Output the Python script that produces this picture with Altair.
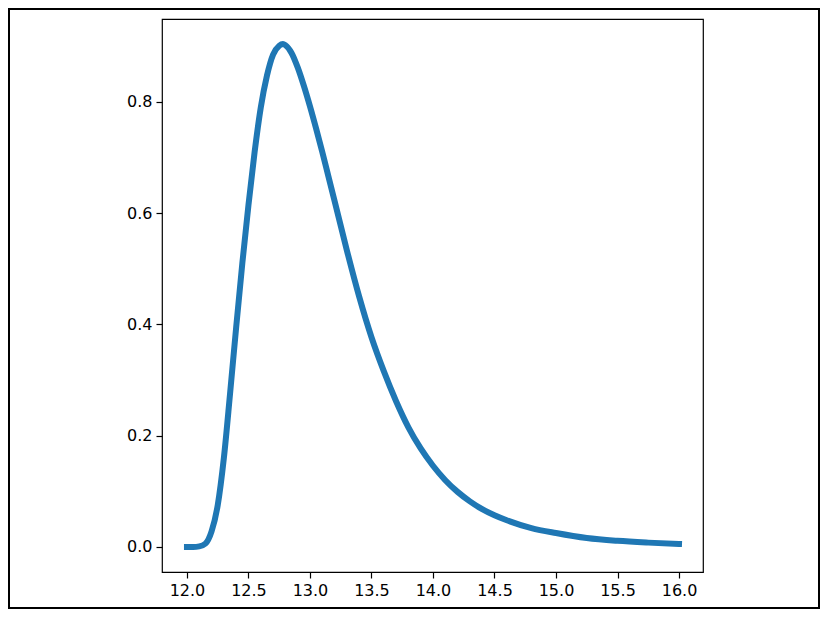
import altair as alt
import pandas as pd

# Values
x_vals = [12.0, 12.05, 12.1, 12.15, 12.2, 12.25, 12.3, 12.35, 12.4, 12.45,
          12.5, 12.55, 12.6, 12.65, 12.7, 12.75, 12.78, 12.8, 12.85, 12.9,
          12.95, 13.0, 13.05, 13.1, 13.15, 13.2, 13.3, 13.4, 13.5, 13.6,
          13.7, 13.8, 13.9, 14.0, 14.1, 14.2, 14.3, 14.4, 14.5, 14.6,
          14.8, 15.0, 15.25, 15.5, 15.75, 16.0]
y_vals = [0.000, 0.000, 0.001, 0.006, 0.028, 0.075, 0.160, 0.275, 0.395, 0.510,
          0.615, 0.710, 0.790, 0.847, 0.885, 0.901, 0.904, 0.902, 0.888, 0.862,
          0.829, 0.792, 0.752, 0.710, 0.666, 0.622, 0.533, 0.450, 0.377, 0.316,
          0.262, 0.215, 0.177, 0.146, 0.120, 0.099, 0.082, 0.068, 0.057, 0.048,
          0.034, 0.025, 0.016, 0.011, 0.0078, 0.0054]

x_ticks = [12.0, 12.5, 13.0, 13.5, 14.0, 14.5, 15.0, 15.5, 16.0]
y_ticks = [0.0, 0.2, 0.4, 0.6, 0.8]

df = pd.DataFrame({"x": x_vals, "y": y_vals})

W, H = 541, 553
PAD_L, PAD_T, PAD_R, PAD_B = 154, 11, 117, 37

line = alt.Chart(df).mark_line(
    color="#1f77b4", strokeWidth=6, strokeCap="square", interpolate="monotone"
).encode(
    x=alt.X("x:Q",
            scale=alt.Scale(domain=[11.797, 16.195], nice=False, zero=False),
            axis=alt.Axis(values=x_ticks, format=".1f", title=None)),
    y=alt.Y("y:Q",
            scale=alt.Scale(domain=[-0.045, 0.949], nice=False, zero=False),
            axis=alt.Axis(values=y_ticks, format=".1f", title=None)),
)

frame = alt.Chart(pd.DataFrame({"a": [0]})).mark_rect(
    fill=None, stroke="#000000", strokeWidth=2
).encode(
    x=alt.value(-PAD_L + 1), x2=alt.value(W + PAD_R - 1),
    y=alt.value(-PAD_T + 1), y2=alt.value(H + PAD_B - 1),
)

chart = alt.layer(line, frame).properties(
    width=W, height=H,
    background="white",
    autosize=alt.AutoSizeParams(type="none"),
    padding={"left": PAD_L, "top": PAD_T, "right": PAD_R, "bottom": PAD_B},
).configure_view(
    stroke="#000000", strokeWidth=1.2
).configure_axis(
    domain=False, grid=False,
    ticks=True, tickColor="#000000", tickSize=6, tickWidth=1.2,
    labelFont="DejaVu Sans", labelFontSize=16, labelColor="#000000",
    labelPadding=4,
)

chart.save("out.html", embed_options={"renderer": "svg", "actions": False})
